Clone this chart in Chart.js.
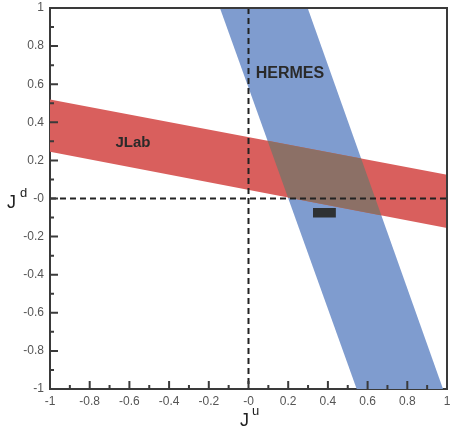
<!DOCTYPE html>
<html>
<head>
<meta charset="utf-8">
<script src="https://cdn.jsdelivr.net/npm/chart.js@4"></script>
<style>
  html, body { margin: 0; padding: 0; background: #fff; }
  #wrap { width: 450px; height: 432px; }
</style>
</head>
<body>
<div id="wrap"><canvas id="chartJ"></canvas></div>
<script>
// band edges
const jlabX = [-1, 1];
const jlabTop = [0.52, 0.125];
const jlabBottom = [0.245, -0.155];

const hermesY = [1, -1];
const hermesLeft = [-0.144, 0.545];
const hermesRight = [0.298, 0.98];

const boxX = [0.325, 0.44];
const boxY = [-0.05, -0.10];

const xTickLabels = ["-1", "-0.8", "-0.6", "-0.4", "-0.2", "-0", "0.2", "0.4", "0.6", "0.8", "1"];
const yTickLabels = ["-1", "-0.8", "-0.6", "-0.4", "-0.2", "-0", "0.2", "0.4", "0.6", "0.8", "1"];

const RED = "#d95f5d";
const BLUE = "#7f9ccf";
const OVERLAP = "#8c7066";
const AXIS = "#3a3a3a";

const redBand = [
    { x: jlabX[0], y: jlabTop[0] },
    { x: jlabX[1], y: jlabTop[1] },
    { x: jlabX[1], y: jlabBottom[1] },
    { x: jlabX[0], y: jlabBottom[0] },
];
const blueBand = [
    { x: hermesLeft[0], y: hermesY[0] },
    { x: hermesRight[0], y: hermesY[0] },
    { x: hermesRight[1], y: hermesY[1] },
    { x: hermesLeft[1], y: hermesY[1] },
];
const box = [
    { x: boxX[0], y: boxY[0] },
    { x: boxX[1], y: boxY[0] },
    { x: boxX[1], y: boxY[1] },
    { x: boxX[0], y: boxY[1] },
];

// overlap, inward ticks, frame, labels
const decor = {
    id: "decor",
    afterDatasetDraw(chart, args) {
        if (args.index !== 1) return;
        const ctx = chart.ctx;
        const blue = chart.getDatasetMeta(0).data;
        const red = chart.getDatasetMeta(1).data;
        ctx.save();
        ctx.beginPath();
        blue.forEach((p, i) => (i ? ctx.lineTo(p.x, p.y) : ctx.moveTo(p.x, p.y)));
        ctx.closePath();
        ctx.clip();
        ctx.beginPath();
        red.forEach((p, i) => (i ? ctx.lineTo(p.x, p.y) : ctx.moveTo(p.x, p.y)));
        ctx.closePath();
        ctx.fillStyle = OVERLAP;
        ctx.fill();
        ctx.restore();
    },
    afterDraw(chart) {
        const ctx = chart.ctx;
        const a = chart.chartArea;
        const xs = chart.scales.x;
        const ys = chart.scales.y;
        ctx.save();
        ctx.strokeStyle = AXIS;
        ctx.lineWidth = 2;
        // top and right frame
        ctx.beginPath();
        ctx.moveTo(a.left, a.top);
        ctx.lineTo(a.right, a.top);
        ctx.lineTo(a.right, a.bottom);
        ctx.stroke();
        // inward ticks
        ctx.beginPath();
        for (let i = 1; i < 20; i++) {
            const v = -1 + i * 0.1;
            const len = i % 2 === 0 ? 8 : 4;
            const px = xs.getPixelForValue(v);
            ctx.moveTo(px, a.bottom);
            ctx.lineTo(px, a.bottom - len);
            const py = ys.getPixelForValue(v);
            ctx.moveTo(a.left, py);
            ctx.lineTo(a.left + len, py);
        }
        ctx.stroke();

        // band labels
        ctx.fillStyle = "#2a2a2a";
        ctx.textAlign = "center";
        ctx.textBaseline = "middle";
        ctx.font = "bold 15px 'Liberation Sans', Arial, sans-serif";
        ctx.fillText("JLab", xs.getPixelForValue(-0.582), ys.getPixelForValue(0.291));
        ctx.font = "bold 16px 'Liberation Sans', Arial, sans-serif";
        ctx.fillText("HERMES", xs.getPixelForValue(0.209), ys.getPixelForValue(0.654));

        // axis titles J^u and J^d
        ctx.textAlign = "left";
        ctx.textBaseline = "alphabetic";
        ctx.fillStyle = "#222";
        ctx.font = "18px 'Liberation Sans', Arial, sans-serif";
        ctx.fillText("J", 240, 426);
        ctx.fillText("J", 7, 208);
        ctx.font = "13px 'Liberation Sans', Arial, sans-serif";
        ctx.fillText("u", 252, 415);
        ctx.fillText("d", 20, 197);
        ctx.restore();
    },
};

const ctx = document.getElementById("chartJ").getContext("2d");
new Chart(ctx, {
    type: "scatter",
    data: {
        datasets: [
            {
                label: "HERMES",
                data: blueBand,
                showLine: true,
                fill: "shape",
                backgroundColor: BLUE,
                borderWidth: 0,
                pointRadius: 0,
                order: 5,
            },
            {
                label: "JLab",
                data: redBand,
                showLine: true,
                fill: "shape",
                backgroundColor: RED,
                borderWidth: 0,
                pointRadius: 0,
                order: 4,
            },
            {
                label: "x0",
                data: [{ x: 0, y: 1 }, { x: 0, y: -1 }],
                showLine: true,
                borderColor: "#222",
                borderWidth: 2,
                borderDash: [6, 4],
                pointRadius: 0,
                order: 3,
            },
            {
                label: "y0",
                data: [{ x: -1, y: 0 }, { x: 1, y: 0 }],
                showLine: true,
                borderColor: "#222",
                borderWidth: 2,
                borderDash: [6, 4],
                pointRadius: 0,
                order: 2,
            },
            {
                label: "box",
                data: box,
                showLine: true,
                fill: "shape",
                backgroundColor: "#2e3133",
                borderWidth: 0,
                pointRadius: 0,
                order: 1,
            },
        ],
    },
    options: {
        responsive: true,
        maintainAspectRatio: false,
        animation: false,
        events: [],
        layout: {
            padding: { left: 0, right: 3, top: 8, bottom: 0 },
        },
        plugins: {
            legend: { display: false },
            tooltip: { enabled: false },
        },
        scales: {
            x: {
                type: "linear",
                min: -1,
                max: 1,
                afterFit(scale) {
                    scale.height = 43;
                    scale.paddingLeft = 0;
                    scale.paddingRight = 0;
                },
                grid: { display: false, drawTicks: false },
                border: { display: true, color: AXIS, width: 2 },
                ticks: {
                    stepSize: 0.2,
                    padding: 5,
                    color: "#555",
                    font: { family: "'Liberation Sans', Arial, sans-serif", size: 12 },
                    maxRotation: 0,
                    autoSkip: false,
                    callback: (v, i) => xTickLabels[i],
                },
            },
            y: {
                type: "linear",
                min: -1,
                max: 1,
                afterFit(scale) {
                    scale.width = 50;
                    scale.paddingTop = 0;
                    scale.paddingBottom = 0;
                },
                grid: { display: false, drawTicks: false },
                border: { display: true, color: AXIS, width: 2 },
                ticks: {
                    stepSize: 0.2,
                    padding: 6,
                    color: "#555",
                    font: { family: "'Liberation Sans', Arial, sans-serif", size: 12 },
                    autoSkip: false,
                    callback: (v, i) => yTickLabels[i],
                },
            },
        },
    },
    plugins: [decor],
});
</script>
</body>
</html>
